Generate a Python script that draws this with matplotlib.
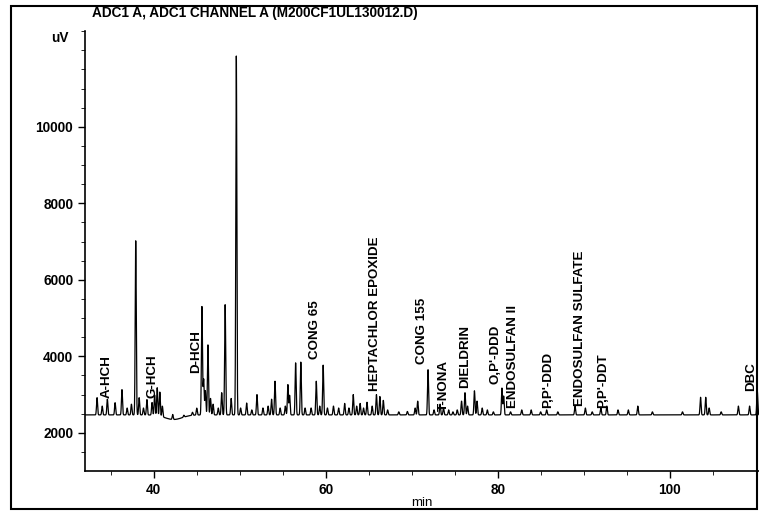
import numpy as np
import matplotlib
matplotlib.use("Agg")
import matplotlib.pyplot as plt
from matplotlib.patches import Rectangle

peak_rt = [33.4, 34.0, 34.6, 35.5, 36.3, 36.9, 37.4, 37.9, 38.3, 38.8,
           39.2, 39.8, 40.1, 40.4, 40.7, 41.0, 42.2, 43.5, 44.5, 45.0,
           45.6, 45.8, 46.0, 46.3, 46.6, 46.9, 47.5, 47.9, 48.3, 49.0,
           49.6, 50.1, 50.8, 51.4, 52.0, 52.7, 53.3, 53.7, 54.1, 54.7,
           55.3, 55.6, 55.8, 56.5, 57.1, 57.6, 58.3, 58.9, 59.3, 59.7,
           60.2, 60.9, 61.5, 62.2, 62.7, 63.2, 63.6, 64.0, 64.4, 64.8,
           65.4, 65.9, 66.3, 66.7, 67.2, 68.5, 69.5, 70.4, 70.7, 71.9,
           72.6, 73.3, 73.7, 74.3, 74.8, 75.3, 75.8, 76.2, 76.5, 77.3,
           77.6, 78.2, 78.8, 79.5, 80.5, 80.7, 81.5, 82.8, 83.9, 85.0,
           85.7, 87.0, 89.0, 90.2, 91.0, 92.0, 92.7, 94.0, 95.2, 96.3,
           98.0, 101.5, 103.6, 104.2, 104.6, 106.0, 108.0, 109.3, 110.2]
peak_top = [2920, 2700, 2880, 2790, 3130, 2650, 2750, 7020, 2920, 2650,
            2870, 2800, 3000, 3200, 3100, 2750, 2600, 2520, 2550, 2650,
            5300, 3400, 3100, 4300, 2900, 2750, 2650, 3050, 5350, 2900,
            11850, 2650, 2780, 2600, 3000, 2650, 2700, 2880, 3350, 2650,
            2700, 3260, 2980, 3830, 3850, 2650, 2650, 3350, 2700, 3770,
            2650, 2700, 2650, 2770, 2650, 3000, 2700, 2770, 2650, 2800,
            2700, 3000, 2950, 2850, 2600, 2550, 2560, 2650, 2830, 3650,
            2600, 2750, 2650, 2600, 2550, 2600, 2830, 3050, 2700, 3100,
            2830, 2650, 2600, 2550, 3170, 2960, 2550, 2600, 2600, 2550,
            2600, 2550, 2700, 2650, 2550, 2650, 2700, 2600, 2600, 2700,
            2550, 2550, 2930, 2930, 2650, 2550, 2700, 2700, 3100]

baseline = 2470
# creux de la ligne de base après le G-HCH
dip_rt = 42.3
dip_depth = -120

# annotations : nom, position (min), bas du texte (uV)
label_names = ["A-HCH", "G-HCH", "D-HCH", "CONG 65", "HEPTACHLOR EPOXIDE",
               "CONG 155", "T-NONA", "DIELDRIN", "O,P'-DDD", "ENDOSULFAN II",
               "P,P'-DDD", "ENDOSULFAN SULFATE", "P,P'-DDT", "DBC"]
label_rt = [34.5, 39.9, 44.9, 58.7, 65.7, 71.2, 73.7, 76.2, 79.7, 81.8,
            85.9, 89.6, 92.3, 109.5]
label_y = [2915, 2915, 3570, 3935, 3100, 3800, 2575, 3180, 3280, 2650,
           2650, 2700, 2650, 3100]

plt.rcParams['font.family'] = ['Liberation Sans', 'DejaVu Sans']

t = np.arange(32.0, 111.0, 0.01)
signal = np.full_like(t, float(baseline))
for rt, top in zip(peak_rt, peak_top):
    signal += (top - baseline) * np.exp(-0.5 * ((t - rt) / 0.06) ** 2)
signal += dip_depth * np.exp(-0.5 * ((t - dip_rt) / 1.0) ** 2)

fig = plt.figure(figsize=(7.59, 5.11), dpi=100)
ax = fig.add_axes([0.112, 0.078, 0.888, 0.861])
ax.plot(t, signal, color='black', linewidth=0.9)

for name, x, y in zip(label_names, label_rt, label_y):
    ax.text(x, y, name, rotation=90, ha='center', va='bottom',
            fontsize=9.6, fontweight='bold')

ax.set_xlim(32, 110.4)
ax.set_ylim(1000, 12500)
ax.set_xticks([40, 60, 80, 100])
ax.set_xticks(np.arange(35, 111, 5), minor=True)
ax.set_yticks([2000, 4000, 6000, 8000, 10000])
ax.set_yticks(np.arange(1500, 12501, 500), minor=True)
ax.tick_params(labelsize=9.8, width=1.0, length=5)
ax.tick_params(which='minor', length=3)
for lab in ax.get_xticklabels() + ax.get_yticklabels():
    lab.set_fontweight('bold')
for s in ['top', 'right']:
    ax.spines[s].set_visible(False)
ax.spines['left'].set_linewidth(1.2)
ax.spines['bottom'].set_linewidth(1.2)
ax.set_xlabel('min', fontsize=9.5, labelpad=0)

fig.text(0.121, 0.975, 'ADC1 A, ADC1 CHANNEL A (M200CF1UL130012.D)',
         fontsize=9.8, fontweight='bold', va='center', ha='left')
fig.text(0.09, 0.925, 'uV', fontsize=9.8, fontweight='bold', va='center', ha='right')

# cadre autour de la figure
fig.patches.append(Rectangle((0.014, 0.004), 0.983, 0.985, transform=fig.transFigure,
                             fill=False, edgecolor='black', linewidth=1.5))

fig.savefig('out.png', dpi=100)
